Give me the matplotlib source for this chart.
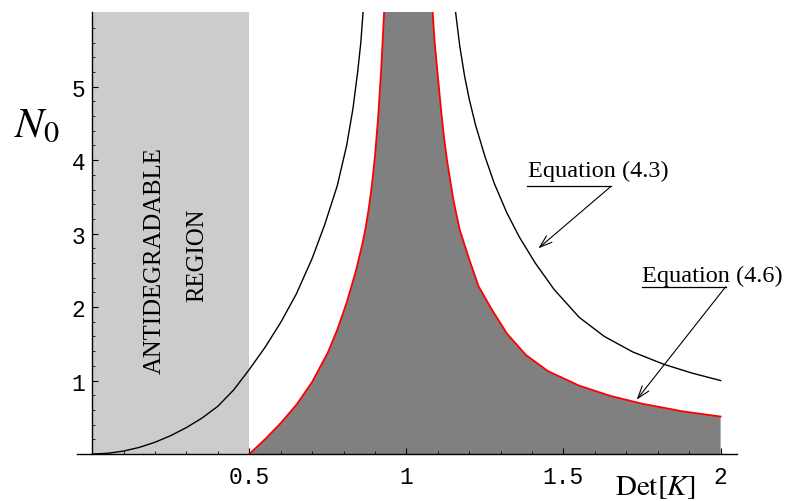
import matplotlib
matplotlib.use("Agg")
import matplotlib.pyplot as plt

plt.rcParams['mathtext.fontset'] = 'stix'

# Equation (4.3), black curve, two branches
eq43_left_x = [0, 0.05, 0.1, 0.15, 0.2, 0.25, 0.3, 0.35, 0.4, 0.45, 0.5, 0.55, 0.6, 0.65,
               0.7, 0.74, 0.78, 0.81, 0.83, 0.845, 0.855, 0.862, 0.864]
eq43_left_y = [0, 0.01, 0.04, 0.09, 0.16, 0.25, 0.36, 0.49, 0.65, 0.87, 1.15, 1.45, 1.79, 2.18,
               2.66, 3.12, 3.65, 4.2, 4.7, 5.2, 5.6, 6.0, 6.1]
eq43_right_x = [1.155, 1.157, 1.17, 1.185, 1.2, 1.22, 1.25, 1.28, 1.32, 1.36, 1.41, 1.47,
                1.55, 1.63, 1.72, 1.82, 1.91, 2.0]
eq43_right_y = [6.1, 6.0, 5.55, 5.15, 4.83, 4.48, 4.05, 3.68, 3.28, 2.95, 2.6, 2.24,
                1.86, 1.6, 1.39, 1.22, 1.1, 1.0]

# Equation (4.6), red boundary of the dark region
eq46_left_x = [0.5, 0.55, 0.6, 0.65, 0.7, 0.75, 0.78, 0.81, 0.84, 0.86, 0.87, 0.88, 0.89,
               0.9, 0.91, 0.92, 0.929, 0.931]
eq46_left_y = [0, 0.2, 0.42, 0.67, 0.98, 1.38, 1.69, 2.06, 2.5, 2.86, 3.07, 3.33, 3.65,
               4.05, 4.57, 5.25, 6.0, 6.1]
eq46_right_x = [1.082, 1.084, 1.09, 1.1, 1.11, 1.12, 1.13, 1.15, 1.17, 1.2, 1.23, 1.27, 1.32,
                1.38, 1.45, 1.55, 1.65, 1.75, 1.88, 2.0]
eq46_right_y = [6.1, 6.0, 5.6, 5.15, 4.7, 4.3, 3.98, 3.45, 3.05, 2.65, 2.28, 1.98, 1.64,
                1.35, 1.13, 0.93, 0.79, 0.685, 0.58, 0.51]

antideg_x = [0, 0.5]

x_major = [0.5, 1, 1.5, 2]
x_labels = ["0.5", "1", "1.5", "2"]
y_major = [1, 2, 3, 4, 5]

fig = plt.figure(figsize=(7.87, 5.02), dpi=100)
ax = fig.add_axes([0.0975, 0.0936, 0.8385, 0.8811])
ax.set_xlim(-0.049, 2.051)
ax.set_ylim(0, 6.02)

# light antidegradable band
ax.axvspan(antideg_x[0], antideg_x[1], color="#cccccc", lw=0, zorder=0)

# dark region under the red curve
fx = eq46_left_x + eq46_right_x + [2.0, 0.5]
fy = eq46_left_y + eq46_right_y + [0, 0]
ax.fill(fx, fy, color="#808080", lw=0, zorder=1)

ax.plot(eq46_left_x, eq46_left_y, color="red", lw=1.3, zorder=2)
ax.plot(eq46_right_x, eq46_right_y, color="red", lw=1.3, zorder=2)
ax.plot(eq43_left_x, eq43_left_y, color="black", lw=1.0, zorder=2)
ax.plot(eq43_right_x, eq43_right_y, color="black", lw=1.0, zorder=2)

# axes through the origin, Mathematica style
for s in ["top", "right"]:
    ax.spines[s].set_visible(False)
ax.spines["left"].set_position(("data", 0))
ax.spines["bottom"].set_position(("data", 0))
ax.spines["left"].set_linewidth(1.0)
ax.spines["bottom"].set_linewidth(1.0)

ax.set_xticks(x_major)
ax.set_xticklabels(x_labels)
ax.set_xticks([v / 10 for v in range(1, 21) if v % 5 != 0], minor=True)
ax.set_yticks(y_major)
ax.set_yticks([v / 5 for v in range(1, 31) if v % 5 != 0], minor=True)
ax.tick_params(which="major", direction="in", length=4, width=0.8)
ax.tick_params(which="minor", direction="in", length=2.5, width=0.6)
ax.tick_params(axis="x", which="major", pad=8)
ax.tick_params(axis="y", which="major", pad=5)
for lab in ax.get_xticklabels() + ax.get_yticklabels():
    lab.set_fontfamily("Liberation Mono")
    lab.set_fontsize(16.5)

ax.text(0.199, 2.65, "ANTIDEGRADABLE", rotation=90, ha="center", va="center",
        family="Liberation Serif", fontsize=17.8)
ax.text(0.334, 2.72, "REGION", rotation=90, ha="center", va="center",
        family="Liberation Serif", fontsize=17.8)

# equation labels with underline and arrow
ax.text(1.387, 3.786, "Equation (4.3)", ha="left", va="baseline",
        family="Liberation Serif", fontsize=17.5)
ax.plot([1.384, 1.651], [3.642, 3.642], color="black", lw=0.9, clip_on=False)
ax.annotate("", xy=(1.420, 2.799), xytext=(1.651, 3.642),
            arrowprops=dict(arrowstyle="->,head_length=0.9,head_width=0.3", lw=0.8, color="black",
                            shrinkA=0, shrinkB=0))

ax.text(1.750, 2.354, "Equation (4.6)", ha="left", va="baseline",
        family="Liberation Serif", fontsize=17.5)
ax.plot([1.750, 2.016], [2.276, 2.276], color="black", lw=0.9, clip_on=False)
ax.annotate("", xy=(1.733, 0.74), xytext=(2.016, 2.276),
            arrowprops=dict(arrowstyle="->,head_length=0.9,head_width=0.3", lw=0.8, color="black",
                            shrinkA=0, shrinkB=0))

fig.text(37 / 787, 1 - 137 / 502, r"$N_0$", ha="center", va="baseline", fontsize=31)
fig.text(655 / 787, 1 - 495 / 502, r"$\mathrm{Det}[K]$", ha="center", va="baseline", fontsize=21)

fig.savefig("out.png", dpi=100)
